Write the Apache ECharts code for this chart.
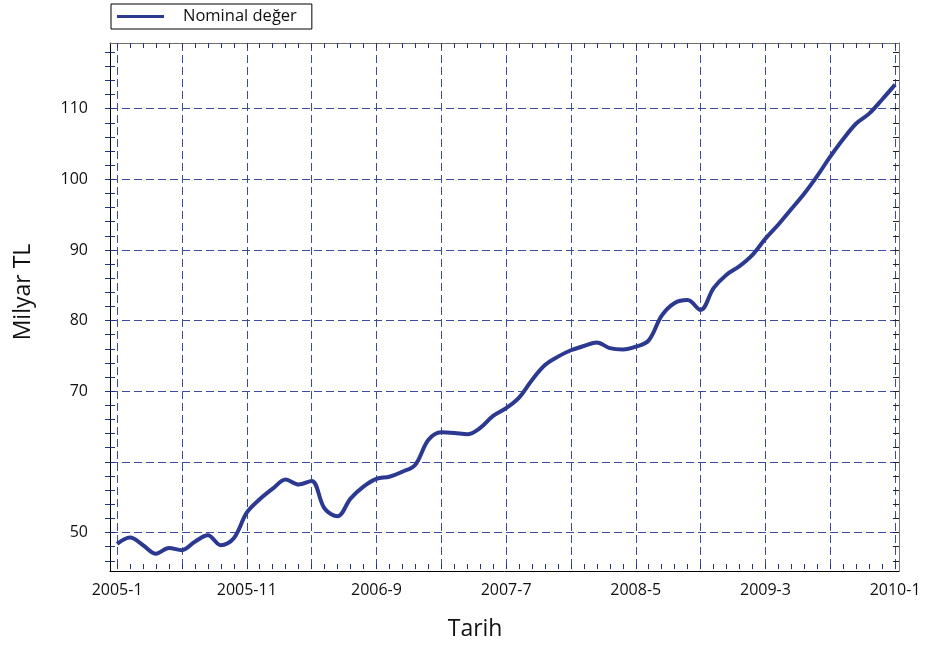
<!DOCTYPE html>
<html>
<head>
<meta charset="utf-8">
<title>Nominal değer</title>
<script src="https://cdn.jsdelivr.net/npm/echarts@6.0.0/dist/echarts.min.js"></script>
<style>
  html, body { margin: 0; padding: 0; background: #fff; }
  #main { width: 938px; height: 646px; }
</style>
</head>
<body>
<div id="main"></div>
<script>
// aylar: 2005-1 ... 2010-1
var months = [];
for (var y = 2005; y <= 2010; y++) {
  for (var m = 1; m <= 12; m++) {
    months.push(y + '-' + m);
    if (y === 2010) break;
  }
}

// nominal deger, milyar TL
var nominal = [
  48.4, 49.3, 48.2, 47.0, 47.8, 47.5, 48.7, 49.6, 48.2, 49.2,
  52.8, 54.7, 56.2, 57.5, 56.8, 57.3, 53.4, 52.3, 54.8, 56.5,
  57.6, 57.9, 58.6, 59.6, 63.1, 64.2, 64.1, 63.9, 64.8, 66.5,
  67.6, 69.1, 71.6, 73.7, 74.9, 75.8, 76.4, 76.9, 76.1, 75.9,
  76.3, 77.2, 80.7, 82.5, 82.9, 81.5, 84.6, 86.5, 87.7, 89.3,
  91.6, 93.6, 95.8, 98.0, 100.5, 103.2, 105.7, 107.9, 109.3, 111.3,
  113.4
];

var seriesName = 'Nominal değer';
var font = 'Open Sans';
var lineColor = '#2b3990';
var gridColor = '#3c4aa0';
var tickColor = '#27317a';

// eksen araliklari
var xMin = 0, xMax = 60;
var yMin = 46, yMax = 118;

var chart = echarts.init(document.getElementById('main'), null, { renderer: 'canvas' });

// 0: cerceve, 1: x eksenleri, 2: y eksenleri, 3: veri
var grids = [
  { left: 110, right: 39, top: 43, bottom: 75 },
  { left: 117.1, right: 42.9, top: 43, bottom: 75 },
  { left: 110, right: 39, top: 52.18, bottom: 85.24 },
  { left: 117.1, right: 42.9, top: 52.18, bottom: 85.24 }
];

function hidden(gi, extra) {
  var a = {
    type: 'value', gridIndex: gi, show: false, min: 0, max: 1,
    axisLine: { show: false, onZero: false }, axisTick: { show: false },
    axisLabel: { show: false }, splitLine: { show: false }
  };
  for (var k in extra) a[k] = extra[k];
  return a;
}

function frameLine(gi, pos, color) {
  return {
    type: 'value', gridIndex: gi, position: pos, min: 0, max: 1,
    axisLine: { show: true, onZero: false, lineStyle: { color: color, width: 1 } },
    axisTick: { show: false }, axisLabel: { show: false }, splitLine: { show: false }
  };
}

function tickAxis(gi, pos, min, max, step, inside, len, color) {
  return {
    type: 'value', gridIndex: gi, position: pos, min: min, max: max, interval: step,
    axisLine: { show: false, onZero: false },
    axisTick: { show: true, inside: inside, length: len, lineStyle: { color: color } },
    axisLabel: { show: false },
    splitLine: { show: false }
  };
}

var option = {
  animation: false,
  backgroundColor: '#fff',
  textStyle: { fontFamily: font },
  grid: grids,
  legend: {
    data: [seriesName],
    left: 111, top: 4,
    icon: 'rect',
    itemWidth: 47, itemHeight: 3,
    padding: [4, 15, 4, 6],
    borderColor: '#000', borderWidth: 1,
    backgroundColor: '#fff',
    textStyle: { fontFamily: font, fontSize: 16.5, color: '#111', padding: [0, 0, 0, 14] }
  },
  xAxis: [
    frameLine(0, 'bottom', '#000'),
    frameLine(0, 'top', '#6b6b6b'),
    {
      type: 'value', gridIndex: 1, position: 'bottom', min: xMin, max: xMax, interval: 5,
      name: 'Tarih', nameLocation: 'middle', nameGap: 49,
      nameTextStyle: { fontFamily: font, fontSize: 23, color: '#111', padding: [0, 62, 0, 0] },
      axisLine: { show: false, onZero: false },
      axisTick: { show: false },
      axisLabel: {
        margin: 13, fontSize: 16, color: '#111', fontFamily: font,
        formatter: function (v) { return v % 10 === 0 ? months[v] : ''; }
      },
      splitLine: { show: true, lineStyle: { color: gridColor, type: [8, 4], width: 1 } }
    },
    tickAxis(1, 'bottom', xMin, xMax, 1, true, 5, tickColor),
    tickAxis(1, 'top', xMin, xMax, 1, true, 5, tickColor),
    hidden(2, {}),
    hidden(3, { min: xMin, max: xMax })
  ],
  yAxis: [
    {
      type: 'value', gridIndex: 0, position: 'left', min: 0, max: 1,
      name: 'Milyar TL', nameLocation: 'middle', nameGap: 75, nameRotate: 90,
      nameTextStyle: { fontFamily: font, fontSize: 23, color: '#111', padding: [0, 0, 0, 30] },
      axisLine: { show: true, onZero: false, lineStyle: { color: '#000', width: 1 } },
      axisTick: { show: false }, axisLabel: { show: false }, splitLine: { show: false }
    },
    frameLine(0, 'right', '#7a7a7a'),
    hidden(1, {}),
    {
      type: 'value', gridIndex: 2, position: 'left', min: yMin, max: yMax,
      minInterval: 10, maxInterval: 10,
      axisLine: { show: false, onZero: false },
      axisTick: { show: false },
      axisLabel: {
        margin: 22, fontSize: 16, color: '#111', fontFamily: font,
        padding: [0, 0, 8, 0],
        formatter: function (v) {
          return (v % 10 === 0 && v !== 60) ? String(v) : '';
        }
      },
      splitLine: {
        show: true, showMinLine: false, showMaxLine: false,
        lineStyle: { color: gridColor, type: [8, 4], width: 1 }
      }
    },
    tickAxis(2, 'left', yMin, yMax, 2, true, 5, tickColor),
    tickAxis(2, 'left', yMin, yMax, 2, false, 5, tickColor),
    tickAxis(2, 'right', yMin, yMax, 2, true, 6, '#222'),
    hidden(3, { min: yMin, max: yMax })
  ],
  series: [
    {
      name: seriesName,
      type: 'line',
      xAxisIndex: 6, yAxisIndex: 7,
      smooth: 0.35,
      symbol: 'none',
      clip: false,
      lineStyle: { color: lineColor, width: 4 },
      itemStyle: { color: lineColor },
      data: nominal.map(function (v, i) { return [i, v]; })
    }
  ]
};

chart.setOption(option);
</script>
</body>
</html>
